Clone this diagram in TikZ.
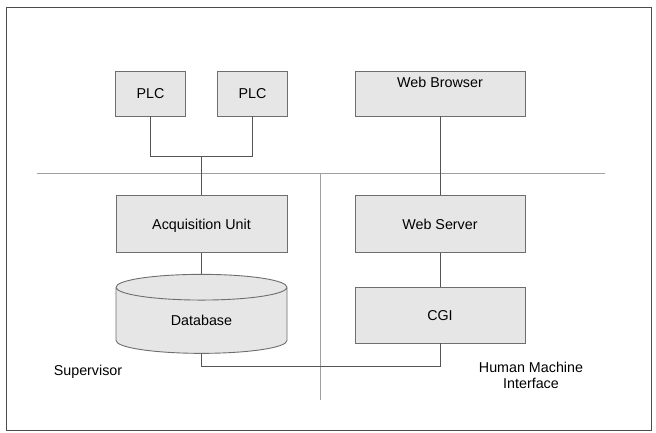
\documentclass[tikz,border=0pt]{standalone}
\usepackage{fontspec}
\setmainfont{Liberation Sans}
\usetikzlibrary{positioning,shapes.geometric}

\definecolor{boxfill}{HTML}{E6E6E6}
\definecolor{boxline}{HTML}{6E6E6E}
\definecolor{wire}{HTML}{555555}
\definecolor{divider}{HTML}{A0A0A0}

\tikzset{
	module/.style={draw=boxline, fill=boxfill, line width=0.9pt, inner sep=0pt, text height=10.3pt, text depth=0pt},
	store/.style={module, cylinder, shape border rotate=90, aspect=0.42, minimum width=171pt, minimum height=79pt},
	link/.style={draw=wire, line width=0.9pt},
}

\begin{document}
\begin{tikzpicture}[x=1pt, y=-1pt, node distance=1cm, on grid, font=\fontsize{14.3}{16}\selectfont]
\useasboundingbox (0,0) rectangle (656,432);
\draw[draw=black!70, line width=1pt] (6,7) rectangle (651,430);

\node[module, minimum width=70pt, minimum height=45pt]		(plc_a)		at (150.5,93.5)							{PLC};
\node[module, minimum width=70pt, minimum height=45pt]		(plc_b)		[right=102pt of plc_a]					{PLC};
\node[module, minimum width=170pt, minimum height=45pt, text depth=23pt]	(browser)	[right=187.5pt of plc_b]	{Web Browser};
\node[module, minimum width=171pt, minimum height=57pt]		(acq)		[below right=130.5pt and 51pt of plc_a]	{Acquisition Unit};
\node[module, minimum width=170pt, minimum height=57pt]		(server)	[below=130.5pt of browser]				{Web Server};
\node[store]												(db)		[below=96.5pt of acq]					{Database};
\node[module, minimum width=170pt, minimum height=56pt]		(cgi)		[below=91pt of server]					{CGI};

\node (supervisor)	at (88,372)		{Supervisor};
\node[align=center] (hmi) at (531,375) {Human Machine\\Interface};

% zone dividers
\coordinate (div_w) at (37,173);
\coordinate (div_e) at (605,173);
\coordinate (div_s) at (320,400);
\draw[draw=divider, line width=0.8pt] (div_w) -- (div_e)
		(div_w -| div_s) -- (div_s);

% connections
\coordinate (bus) at (201.5,156);
\coordinate (ret) at (440,366);
\path[link]	(plc_a.south)	|- (bus)
			(plc_b.south)	|- (bus)
			(bus)			-- (acq.north)
			(acq.south)		-- (db.north)
			(browser)		-- (server)
			(server)		-- (cgi)
			(db.south)		|- (ret) -- (cgi.south);
\end{tikzpicture}
\end{document}
